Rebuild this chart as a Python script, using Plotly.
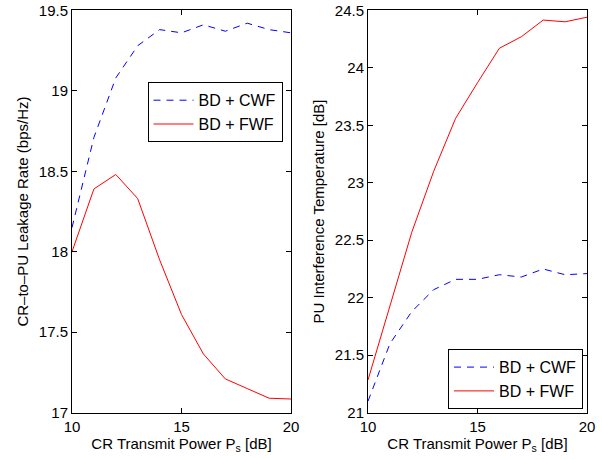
import plotly.graph_objects as go

x_power = [10, 11, 12, 13, 14, 15, 16, 17, 18, 19, 20]

rate_cwf = [18.15, 18.71, 19.08, 19.28, 19.38, 19.36, 19.41, 19.37, 19.42, 19.38, 19.36]
rate_fwf = [18.0, 18.39, 18.48, 18.33, 17.95, 17.61, 17.365, 17.21, 17.15, 17.09, 17.085]

temp_cwf = [21.10, 21.60, 21.88, 22.07, 22.16, 22.16, 22.20, 22.18, 22.25, 22.20, 22.21]
temp_fwf = [21.285, 21.93, 22.57, 23.10, 23.56, 23.87, 24.17, 24.27, 24.415, 24.40, 24.44]

left_ticks = [17, 17.5, 18, 18.5, 19, 19.5]
left_ticktext = ["17", "17.5", "18", "18.5", "19", "19.5"]
right_ticks = [21, 21.5, 22, 22.5, 23, 23.5, 24, 24.5]
right_ticktext = ["21", "21.5", "22", "22.5", "23", "23.5", "24", "24.5"]
x_ticks = [10, 15, 20]

W, H = 602, 459
FONT = "Liberation Sans, Arial, Helvetica, sans-serif"
FS = 15

fig = go.Figure()
fig.add_trace(go.Scatter(x=x_power, y=rate_cwf, mode="lines", name="BD + CWF",
                         line=dict(color="#0000ff", width=1, dash="7px,6px"),
                         xaxis="x", yaxis="y", legend="legend"))
fig.add_trace(go.Scatter(x=x_power, y=rate_fwf, mode="lines", name="BD + FWF",
                         line=dict(color="#ff0000", width=1),
                         xaxis="x", yaxis="y", legend="legend"))
fig.add_trace(go.Scatter(x=x_power, y=temp_cwf, mode="lines", name="BD + CWF",
                         line=dict(color="#0000ff", width=1, dash="7px,6px"),
                         xaxis="x2", yaxis="y2", legend="legend2"))
fig.add_trace(go.Scatter(x=x_power, y=temp_fwf, mode="lines", name="BD + FWF",
                         line=dict(color="#ff0000", width=1),
                         xaxis="x2", yaxis="y2", legend="legend2"))

ydom = [1 - 412.7 / H, 1 - 10.3 / H]
axis_common = dict(showgrid=False, zeroline=False, showline=True, linecolor="black",
                   linewidth=1, mirror="ticks", ticks="inside", ticklen=5,
                   tickcolor="black", automargin=False,
                   tickfont=dict(size=FS, color="black", family=FONT))

legend_common = dict(xanchor="center", yanchor="middle", bordercolor="black",
                     borderwidth=1, bgcolor="white", itemwidth=40,
                     font=dict(size=16, family=FONT), tracegroupgap=0)

fig.update_layout(
    width=W, height=H,
    margin=dict(l=0, r=0, t=0, b=0, autoexpand=False),
    paper_bgcolor="white", plot_bgcolor="white",
    font=dict(family=FONT, size=FS, color="black"),
    xaxis=dict(domain=[72 / W, 291 / W], range=[10, 20], tickvals=x_ticks,
               title=dict(text="CR Transmit Power P<sub>s</sub> [dB]", standoff=2,
                          font=dict(size=FS)), anchor="y", **axis_common),
    yaxis=dict(domain=ydom, range=[17, 19.5], tickvals=left_ticks, ticktext=left_ticktext,
               title=dict(text="CR–to–PU Leakage Rate (bps/Hz)", standoff=6,
                          font=dict(size=FS)), anchor="x", **axis_common),
    xaxis2=dict(domain=[368 / W, 587 / W], range=[10, 20], tickvals=x_ticks,
                title=dict(text="CR Transmit Power P<sub>s</sub> [dB]", standoff=2,
                           font=dict(size=FS)), anchor="y2", **axis_common),
    yaxis2=dict(domain=ydom, range=[21, 24.5], tickvals=right_ticks, ticktext=right_ticktext,
                title=dict(text="PU Interference Temperature [dB]", standoff=6,
                           font=dict(size=FS)), anchor="x2", **axis_common),
    legend=dict(x=215 / W, y=1 - 112.3 / H, **legend_common),
    legend2=dict(x=515.5 / W, y=1 - 379.2 / H, **legend_common),
    showlegend=True,
)

fig.write_html("out.html", post_script="document.body.style.margin='0';",
               config={"displayModeBar": False})
